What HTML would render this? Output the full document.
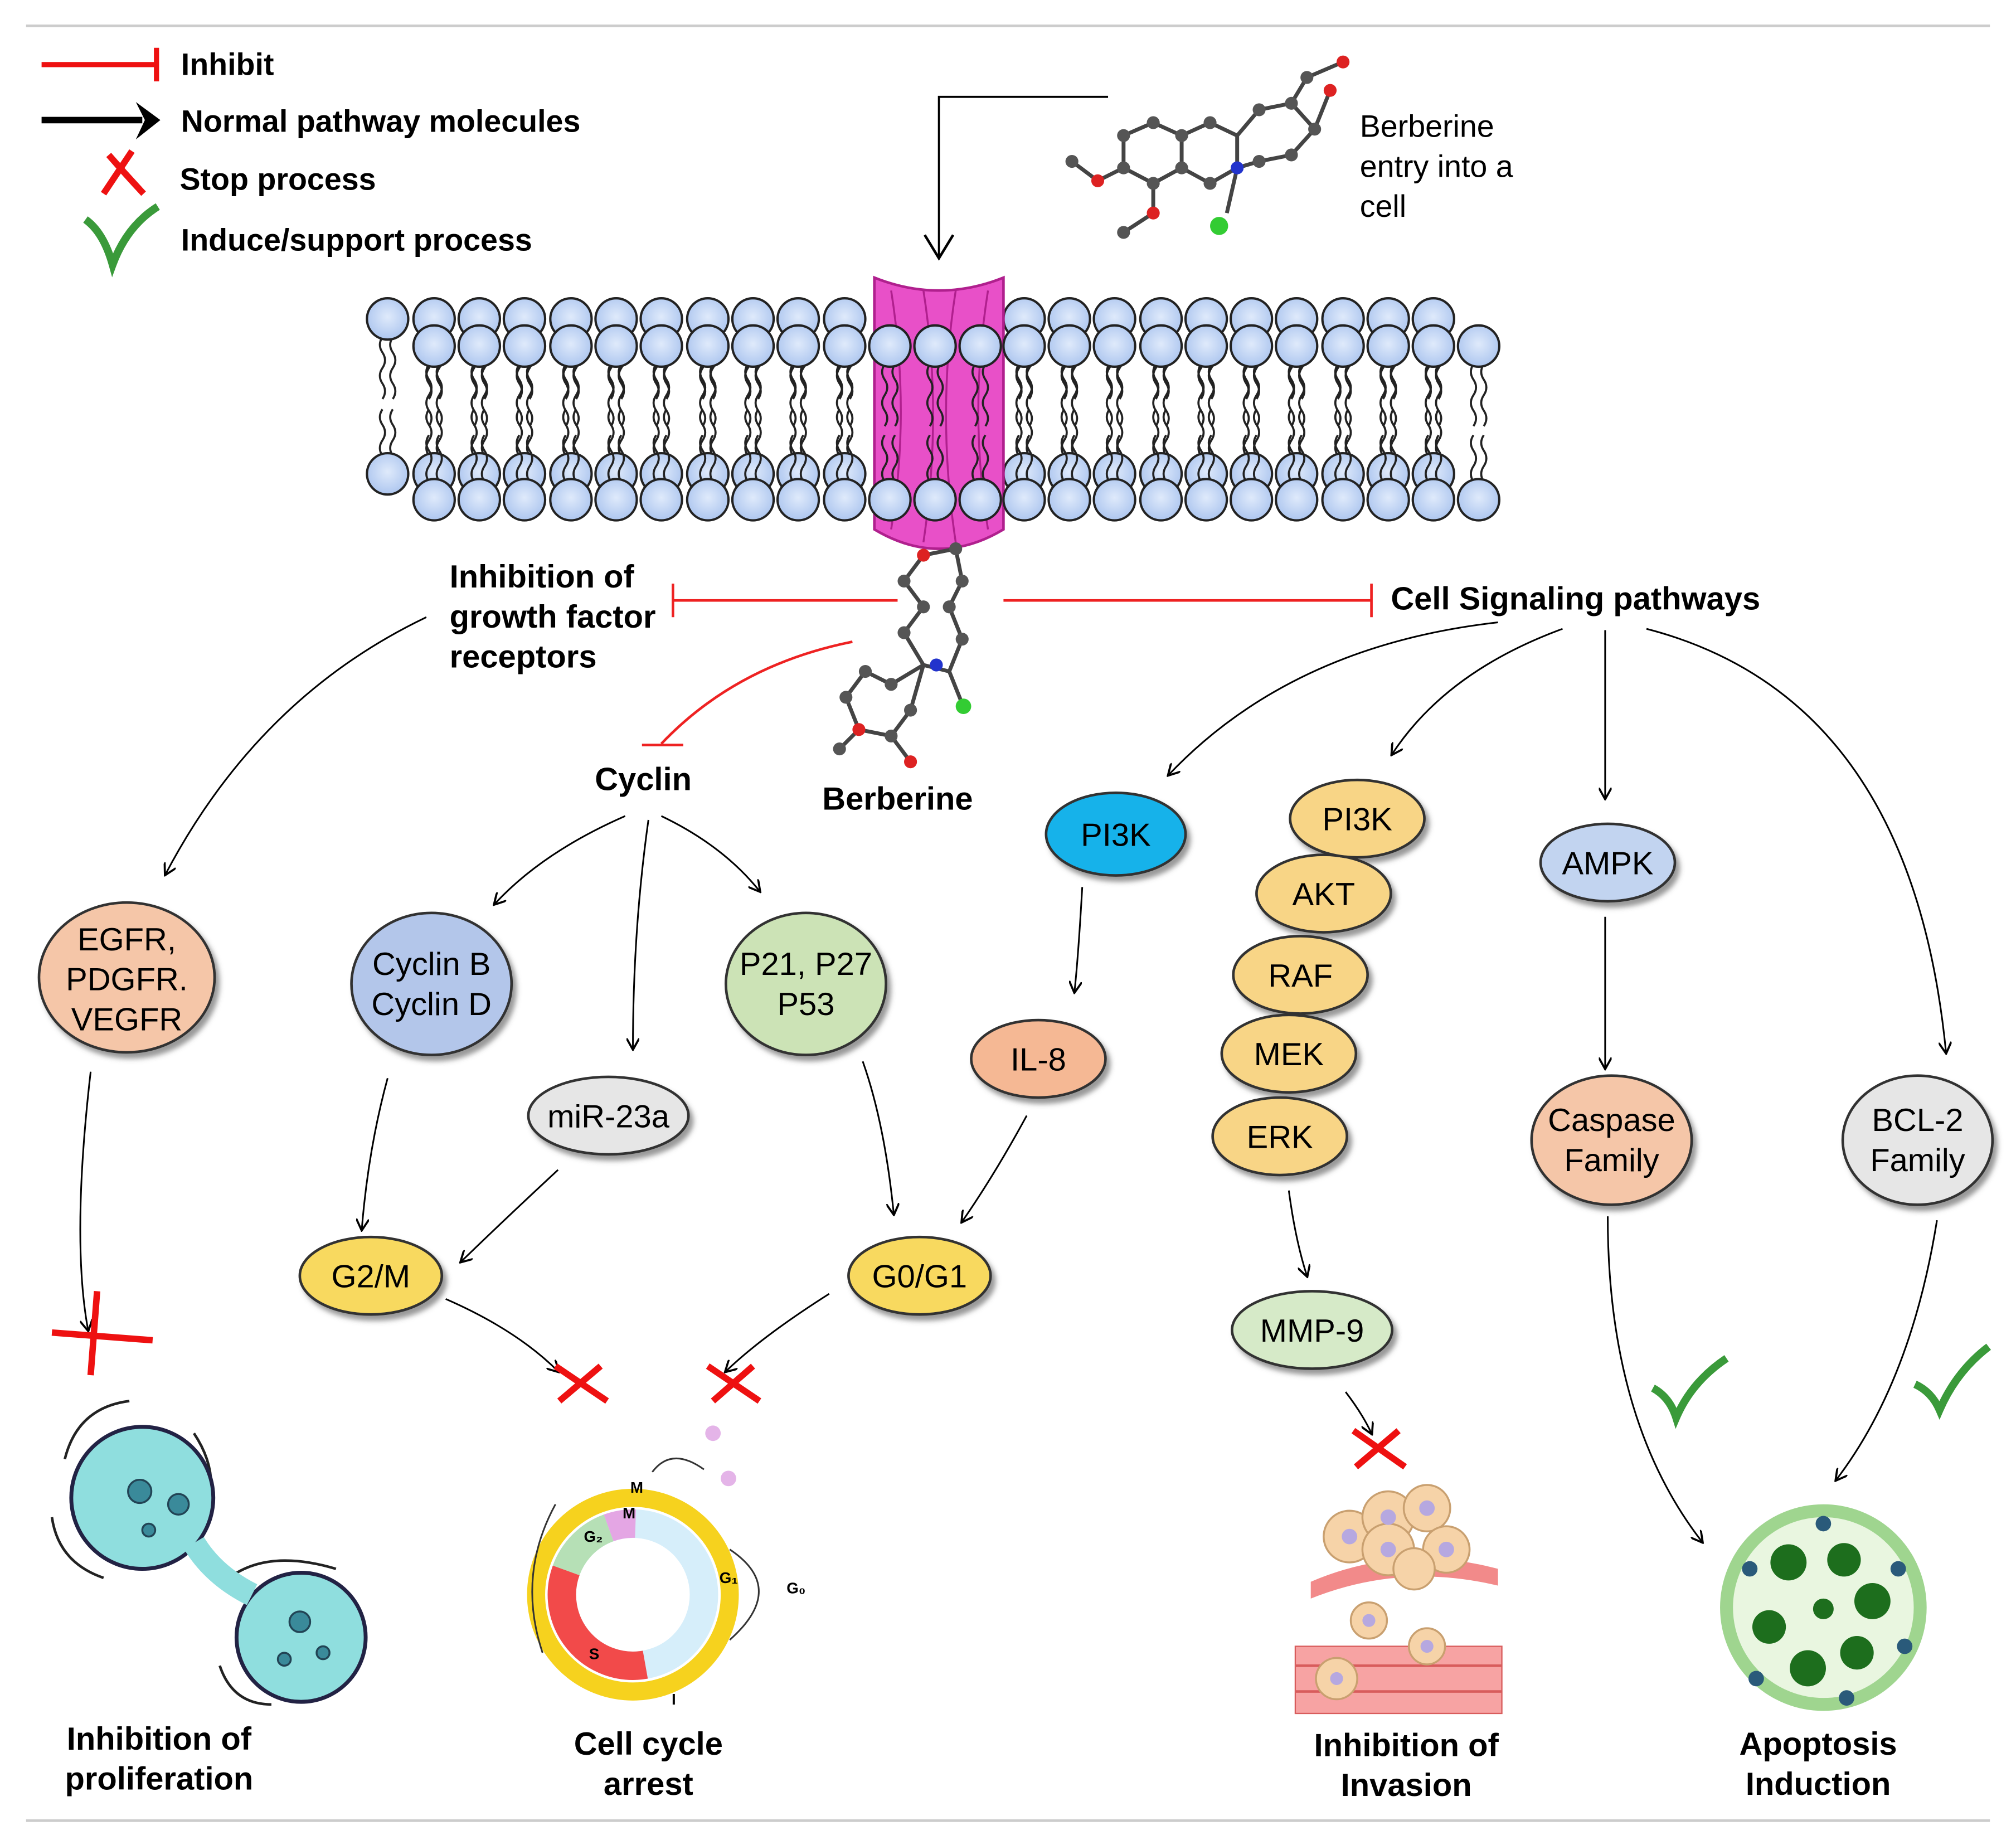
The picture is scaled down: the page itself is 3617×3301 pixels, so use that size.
<!DOCTYPE html>
<html><head><meta charset="utf-8"><style>html,body{margin:0;padding:0;background:#fff}svg{display:block}text{font-family:"Liberation Sans",Arial,sans-serif}</style></head>
<body>
<svg width="3617" height="3301" viewBox="0 0 1561 1425" xmlns="http://www.w3.org/2000/svg">
<defs>
<marker id="ah" markerWidth="10" markerHeight="10" refX="8" refY="5" orient="auto" markerUnits="userSpaceOnUse" viewBox="0 0 10 10"><path d="M0,0 L9,5 L0,10" fill="none" stroke="#000" stroke-width="1.6"/></marker>
<radialGradient id="head" cx="0.5" cy="0.45" r="0.6"><stop offset="0" stop-color="#dfeafb"/><stop offset="1" stop-color="#a9c3ee"/></radialGradient>
<g id="lt"><path d="M-4,14 q-4,6 0,12 q4,6 0,12 q-4,6 0,12 q4,6 0,12 M4,14 q-4,6 0,12 q4,6 0,12 q-4,6 0,12 q4,6 0,12" fill="none" stroke="#222" stroke-width="1.6"/><circle r="16" fill="url(#head)" stroke="#222" stroke-width="1.8"/></g>
<g id="lb"><path d="M-4,-14 q-4,-6 0,-12 q4,-6 0,-12 q-4,-6 0,-12 M4,-14 q-4,-6 0,-12 q4,-6 0,-12 q-4,-6 0,-12" fill="none" stroke="#222" stroke-width="1.6"/><circle r="16" fill="url(#head)" stroke="#222" stroke-width="1.8"/></g>
<filter id="sh" x="-20%" y="-20%" width="150%" height="160%"><feDropShadow dx="3" dy="4" stdDeviation="2" flood-color="#555" flood-opacity="0.6"/></filter>
</defs>
<line x1="20" y1="20" x2="1541" y2="20" stroke="#ccc" stroke-width="2"/>
<line x1="20" y1="1410" x2="1541" y2="1410" stroke="#ccc" stroke-width="2"/>
<!-- legend -->
<line x1="32" y1="50" x2="120" y2="50" stroke="#e11" stroke-width="4"/><line x1="121" y1="37" x2="121" y2="63" stroke="#e11" stroke-width="4"/>
<line x1="32" y1="93" x2="110" y2="93" stroke="#000" stroke-width="5"/><path d="M105,79 L124,93 L105,108 L112,93Z" fill="#000"/>
<path d="M84,120 Q97,135 111,150 M102,117 Q90,135 80,150" stroke="#e11" stroke-width="5" fill="none"/>
<path d="M66,170 Q80,180 87,205 Q98,175 122,160" stroke="#3a9a3a" stroke-width="6" fill="none"/>
<g font-weight="bold" font-size="24">
<text x="140" y="58">Inhibit</text><text x="140" y="102">Normal pathway molecules</text><text x="139" y="147">Stop process</text><text x="140" y="194">Induce/support process</text></g>
<!-- membrane -->
<use href="#lt" x="300" y="247"/><use href="#lt" x="336" y="247"/><use href="#lt" x="371" y="247"/><use href="#lt" x="406" y="247"/><use href="#lt" x="442" y="247"/><use href="#lt" x="477" y="247"/><use href="#lt" x="512" y="247"/><use href="#lt" x="548" y="247"/><use href="#lt" x="583" y="247"/><use href="#lt" x="618" y="247"/><use href="#lt" x="654" y="247"/><use href="#lt" x="793" y="247"/><use href="#lt" x="828" y="247"/><use href="#lt" x="863" y="247"/><use href="#lt" x="899" y="247"/><use href="#lt" x="934" y="247"/><use href="#lt" x="969" y="247"/><use href="#lt" x="1004" y="247"/><use href="#lt" x="1040" y="247"/><use href="#lt" x="1075" y="247"/><use href="#lt" x="1110" y="247"/>
<use href="#lb" x="300" y="367"/><use href="#lb" x="336" y="367"/><use href="#lb" x="371" y="367"/><use href="#lb" x="406" y="367"/><use href="#lb" x="442" y="367"/><use href="#lb" x="477" y="367"/><use href="#lb" x="512" y="367"/><use href="#lb" x="548" y="367"/><use href="#lb" x="583" y="367"/><use href="#lb" x="618" y="367"/><use href="#lb" x="654" y="367"/><use href="#lb" x="793" y="367"/><use href="#lb" x="828" y="367"/><use href="#lb" x="863" y="367"/><use href="#lb" x="899" y="367"/><use href="#lb" x="934" y="367"/><use href="#lb" x="969" y="367"/><use href="#lb" x="1004" y="367"/><use href="#lb" x="1040" y="367"/><use href="#lb" x="1075" y="367"/><use href="#lb" x="1110" y="367"/>
<path d="M677,215 Q727,235 777,215 L777,410 Q727,440 677,410 Z" fill="#e850c8" stroke="#b0208e" stroke-width="2"/>
<path d="M690,225 Q705,320 690,410 M765,225 Q750,320 765,410 M715,225 Q730,320 715,420 M740,225 Q725,320 740,420" stroke="#b0208e" stroke-width="1.5" fill="none"/>
<use href="#lt" x="336" y="268"/><use href="#lt" x="371" y="268"/><use href="#lt" x="406" y="268"/><use href="#lt" x="442" y="268"/><use href="#lt" x="477" y="268"/><use href="#lt" x="512" y="268"/><use href="#lt" x="548" y="268"/><use href="#lt" x="583" y="268"/><use href="#lt" x="618" y="268"/><use href="#lt" x="654" y="268"/><use href="#lt" x="689" y="268"/><use href="#lt" x="724" y="268"/><use href="#lt" x="759" y="268"/><use href="#lt" x="793" y="268"/><use href="#lt" x="828" y="268"/><use href="#lt" x="863" y="268"/><use href="#lt" x="899" y="268"/><use href="#lt" x="934" y="268"/><use href="#lt" x="969" y="268"/><use href="#lt" x="1004" y="268"/><use href="#lt" x="1040" y="268"/><use href="#lt" x="1075" y="268"/><use href="#lt" x="1110" y="268"/><use href="#lt" x="1145" y="268"/>
<use href="#lb" x="336" y="387"/><use href="#lb" x="371" y="387"/><use href="#lb" x="406" y="387"/><use href="#lb" x="442" y="387"/><use href="#lb" x="477" y="387"/><use href="#lb" x="512" y="387"/><use href="#lb" x="548" y="387"/><use href="#lb" x="583" y="387"/><use href="#lb" x="618" y="387"/><use href="#lb" x="654" y="387"/><use href="#lb" x="689" y="387"/><use href="#lb" x="724" y="387"/><use href="#lb" x="759" y="387"/><use href="#lb" x="793" y="387"/><use href="#lb" x="828" y="387"/><use href="#lb" x="863" y="387"/><use href="#lb" x="899" y="387"/><use href="#lb" x="934" y="387"/><use href="#lb" x="969" y="387"/><use href="#lb" x="1004" y="387"/><use href="#lb" x="1040" y="387"/><use href="#lb" x="1075" y="387"/><use href="#lb" x="1110" y="387"/><use href="#lb" x="1145" y="387"/>
<!-- entry arrow -->
<path d="M858,75 L727,75 L727,200" fill="none" stroke="#000" stroke-width="1.6"/><path d="M716,182 L727,200 L738,182" fill="none" stroke="#000" stroke-width="2"/>
<!-- top molecule -->
<g stroke="#444" stroke-width="3" fill="none">
<path d="M870,105 L893,95 L915,105 L915,130 L893,142 L870,130 Z M915,105 L937,95 L958,105 L958,130 L937,142 L915,130 M958,105 L975,85 L1000,80 L1018,100 L1000,120 L975,125 L958,130 M1000,80 L1012,60 L1040,48 M1018,100 L1030,70 M870,130 L850,140 L830,125 M893,142 L893,165 L870,180 M958,130 L950,165"/>
</g>
<g fill="#555"><circle cx="870" cy="105" r="5"/><circle cx="893" cy="95" r="5"/><circle cx="915" cy="105" r="5"/><circle cx="915" cy="130" r="5"/><circle cx="893" cy="142" r="5"/><circle cx="870" cy="130" r="5"/><circle cx="937" cy="95" r="5"/><circle cx="937" cy="142" r="5"/><circle cx="975" cy="85" r="5"/><circle cx="1000" cy="80" r="5"/><circle cx="1018" cy="100" r="5"/><circle cx="1000" cy="120" r="5"/><circle cx="975" cy="125" r="5"/><circle cx="830" cy="125" r="5"/><circle cx="870" cy="180" r="5"/><circle cx="1012" cy="60" r="5"/></g>
<circle cx="958" cy="130" r="5" fill="#2233cc"/><circle cx="850" cy="140" r="5" fill="#d22"/><circle cx="893" cy="165" r="5" fill="#d22"/><circle cx="1040" cy="48" r="5" fill="#d22"/><circle cx="1030" cy="70" r="5" fill="#d22"/><circle cx="944" cy="175" r="7" fill="#3c3"/>
<text x="1053" y="106" font-size="24">Berberine</text><text x="1053" y="137" font-size="24">entry into a</text><text x="1053" y="168" font-size="24">cell</text>
<!-- lower molecule -->
<g stroke="#444" stroke-width="3" fill="none">
<path d="M715,430 L740,425 L745,450 L735,470 L745,495 L735,520 L715,515 L700,490 L715,470 L700,450 Z M715,515 L690,530 L670,520 L655,540 L665,565 L690,570 L705,550 L715,515 M665,565 L650,580 M690,570 L705,590 M735,520 L745,545"/>
</g>
<g fill="#555"><circle cx="740" cy="425" r="5"/><circle cx="745" cy="450" r="5"/><circle cx="735" cy="470" r="5"/><circle cx="745" cy="495" r="5"/><circle cx="715" cy="470" r="5"/><circle cx="700" cy="450" r="5"/><circle cx="700" cy="490" r="5"/><circle cx="690" cy="530" r="5"/><circle cx="670" cy="520" r="5"/><circle cx="655" cy="540" r="5"/><circle cx="690" cy="570" r="5"/><circle cx="705" cy="550" r="5"/><circle cx="650" cy="580" r="5"/></g>
<circle cx="715" cy="430" r="5" fill="#d22"/><circle cx="725" cy="515" r="5" fill="#23c"/><circle cx="665" cy="565" r="5" fill="#d22"/><circle cx="705" cy="590" r="5" fill="#d22"/><circle cx="746" cy="547" r="6" fill="#3c3"/>
<text x="695" y="627" font-size="25" font-weight="bold" text-anchor="middle">Berberine</text>
<!-- inhibition lines -->
<g stroke="#e22" stroke-width="2" fill="none">
<line x1="695" y1="465" x2="521" y2="465"/><line x1="521" y1="452" x2="521" y2="478"/>
<line x1="777" y1="465" x2="1062" y2="465"/><line x1="1062" y1="452" x2="1062" y2="478"/>
<path d="M660,497 Q570,515 512,576"/><line x1="497" y1="577" x2="529" y2="577"/>
</g>
<g font-weight="bold" font-size="25">
<text x="348" y="455">Inhibition of</text><text x="348" y="486">growth factor</text><text x="348" y="517">receptors</text>
<text x="1077" y="472">Cell Signaling pathways</text>
<text x="498" y="612" text-anchor="middle">Cyclin</text>
</g>
<!-- arrows -->
<g stroke="#000" stroke-width="1.3" fill="none" marker-end="url(#ah)">
<path d="M330,478 Q200,540 128,677"/>
<path d="M484,632 Q420,660 383,700"/>
<path d="M502,635 Q490,720 490,812"/>
<path d="M512,632 Q560,655 588,690"/>
<path d="M1160,482 Q1000,500 905,600"/>
<path d="M1210,487 Q1120,520 1078,584"/>
<path d="M1243,488 L1243,618"/>
<path d="M1275,487 Q1480,540 1507,815"/>
<path d="M838,687 Q835,740 832,768"/>
<path d="M300,835 Q285,890 280,952"/>
<path d="M432,906 Q390,945 357,977"/>
<path d="M668,822 Q685,870 692,940"/>
<path d="M795,864 Q770,910 745,946"/>
<path d="M1243,710 L1243,827"/>
<path d="M998,922 Q1003,960 1012,988"/>
<path d="M70,830 Q55,960 68,1030"/>
<path d="M1245,942 Q1245,1100 1318,1194"/>
<path d="M1500,945 Q1480,1070 1422,1146"/>
<path d="M345,1006 Q400,1030 432,1062"/>
<path d="M642,1002 Q590,1035 562,1062"/>
<path d="M1042,1078 Q1055,1095 1062,1110"/>
</g>
<!-- nodes -->
<g filter="url(#sh)" stroke="#333" stroke-width="2">
<ellipse cx="98" cy="757" rx="68" ry="58" fill="#f5c6a8"/>
<ellipse cx="334" cy="762" rx="62" ry="55" fill="#b3c6ea"/>
<ellipse cx="624" cy="762" rx="62" ry="55" fill="#cce3b6"/>
<ellipse cx="471" cy="864" rx="62" ry="30" fill="#e6e6e6"/>
<ellipse cx="287" cy="988" rx="55" ry="30" fill="#f8d95e"/>
<ellipse cx="712" cy="988" rx="55" ry="30" fill="#f8d95e"/>
<ellipse cx="864" cy="646" rx="54" ry="32" fill="#19b2ea"/>
<ellipse cx="804" cy="820" rx="52" ry="30" fill="#f5b894"/>
<ellipse cx="991" cy="880" rx="52" ry="30" fill="#f8d586"/>
<ellipse cx="998" cy="816" rx="52" ry="30" fill="#f8d586"/>
<ellipse cx="1007" cy="755" rx="52" ry="30" fill="#f8d586"/>
<ellipse cx="1025" cy="692" rx="52" ry="30" fill="#f8d586"/>
<ellipse cx="1051" cy="634" rx="52" ry="30" fill="#f8d586"/>
<ellipse cx="1016" cy="1030" rx="62" ry="30" fill="#d6eac8"/>
<ellipse cx="1245" cy="668" rx="52" ry="30" fill="#c2d4f0"/>
<ellipse cx="1248" cy="883" rx="62" ry="50" fill="#f5c6a8"/>
<ellipse cx="1485" cy="883" rx="58" ry="50" fill="#e6e6e6"/>
</g>
<g font-size="25" text-anchor="middle">
<text x="98" y="736">EGFR,</text><text x="98" y="767">PDGFR.</text><text x="98" y="798">VEGFR</text>
<text x="334" y="755">Cyclin B</text><text x="334" y="786">Cyclin D</text>
<text x="624" y="755">P21, P27</text><text x="624" y="786">P53</text>
<text x="471" y="873">miR-23a</text>
<text x="287" y="997">G2/M</text><text x="712" y="997">G0/G1</text>
<text x="864" y="655">PI3K</text><text x="804" y="829">IL-8</text>
<text x="1051" y="643">PI3K</text><text x="1025" y="701">AKT</text><text x="1007" y="764">RAF</text><text x="998" y="825">MEK</text><text x="991" y="889">ERK</text>
<text x="1016" y="1039">MMP-9</text><text x="1245" y="677">AMPK</text>
<text x="1248" y="876">Caspase</text><text x="1248" y="907">Family</text>
<text x="1485" y="876">BCL-2</text><text x="1485" y="907">Family</text>
</g>
<!-- X marks and checks -->
<g stroke="#e11" stroke-width="5" fill="none">
<path d="M75,1000 Q72,1040 70,1065 M40,1032 Q80,1035 118,1038"/>
<path d="M430,1058 L470,1085 M465,1058 L433,1085"/>
<path d="M548,1058 L588,1085 M583,1058 L552,1085"/>
<path d="M1048,1108 L1088,1136 M1083,1108 L1050,1136"/>
</g>
<g stroke="#3a9a3a" stroke-width="6" fill="none">
<path d="M1280,1075 Q1293,1082 1298,1098 Q1310,1070 1337,1052"/>
<path d="M1483,1072 Q1496,1078 1502,1092 Q1515,1062 1540,1043"/>
</g>
<!-- proliferation cells -->
<g stroke="#222" stroke-width="2" fill="none">
<path d="M50,1130 Q60,1090 100,1085 M40,1175 Q45,1210 80,1222 M150,1110 Q170,1140 160,1170 M180,1220 Q210,1200 260,1215 M275,1250 Q290,1290 250,1315 M170,1290 Q180,1320 210,1320"/>
</g>
<circle cx="110" cy="1160" r="55" fill="#8fdede" stroke="#224" stroke-width="3"/>
<circle cx="233" cy="1268" r="50" fill="#8fdede" stroke="#224" stroke-width="3"/>
<path d="M150,1195 Q165,1220 195,1235" stroke="#8fdede" stroke-width="18"/>
<g fill="#3a8a9a" stroke="#245" stroke-width="1.5"><circle cx="108" cy="1155" r="9"/><circle cx="138" cy="1165" r="8"/><circle cx="115" cy="1185" r="5"/><circle cx="232" cy="1256" r="8"/><circle cx="220" cy="1285" r="5"/><circle cx="250" cy="1280" r="5"/></g>
<!-- cell cycle -->
<circle cx="490" cy="1235" r="75" fill="none" stroke="#f6d21e" stroke-width="14"/>
<circle cx="490" cy="1235" r="55" fill="none" stroke="#d6eefa" stroke-width="22"/>
<path d="M438.3,1216.2 A55,55 0 0 0 499.6,1289.2" fill="none" stroke="#f24a4a" stroke-width="22"/>
<path d="M438.3,1216.2 A55,55 0 0 1 471.2,1183.3" fill="none" stroke="#b6e0b6" stroke-width="22"/>
<path d="M471.2,1183.3 A55,55 0 0 1 492,1180" fill="none" stroke="#e4a6e4" stroke-width="22"/>
<path d="M420,1280 Q400,1220 430,1165 M565,1200 Q610,1230 565,1270 M505,1140 Q520,1120 545,1138" fill="none" stroke="#333" stroke-width="1.3"/>
<circle cx="552" cy="1110" r="6" fill="#e4b4e8"/><circle cx="564" cy="1145" r="6" fill="#e4b4e8"/>
<g font-size="12" font-weight="bold"><text x="488" y="1156">M</text><text x="482" y="1176">M</text><text x="452" y="1194">G₂</text><text x="557" y="1226">G₁</text><text x="609" y="1234">G₀</text><text x="456" y="1285">S</text><text x="520" y="1320">I</text></g>
<!-- invasion -->
<path d="M1015,1225 Q1085,1195 1160,1215 L1160,1228 Q1085,1210 1015,1238 Z" fill="#f28a8a"/>
<rect x="1003" y="1275" width="160" height="52" fill="#f7a3a3" stroke="#d85c5c"/>
<g stroke="#d85c5c" stroke-width="2"><line x1="1003" y1="1290" x2="1163" y2="1290"/><line x1="1003" y1="1310" x2="1163" y2="1310"/></g>
<g fill="#f6d3a8" stroke="#c9a070" stroke-width="1.5">
<circle cx="1045" cy="1190" r="20"/><circle cx="1075" cy="1175" r="20"/><circle cx="1105" cy="1168" r="18"/><circle cx="1075" cy="1200" r="20"/><circle cx="1120" cy="1200" r="18"/><circle cx="1095" cy="1215" r="16"/><circle cx="1060" cy="1255" r="14"/><circle cx="1105" cy="1275" r="14"/><circle cx="1035" cy="1300" r="16"/></g>
<g fill="#b6a8e0"><circle cx="1045" cy="1190" r="6"/><circle cx="1075" cy="1175" r="6"/><circle cx="1105" cy="1168" r="6"/><circle cx="1075" cy="1200" r="6"/><circle cx="1120" cy="1200" r="6"/><circle cx="1060" cy="1255" r="5"/><circle cx="1105" cy="1275" r="5"/><circle cx="1035" cy="1300" r="5"/></g>
<!-- apoptosis -->
<circle cx="1412" cy="1245" r="75" fill="#e9f6e0" stroke="#9fd58f" stroke-width="10"/>
<g fill="#1d6e1d"><circle cx="1385" cy="1210" r="14"/><circle cx="1428" cy="1208" r="13"/><circle cx="1450" cy="1240" r="14"/><circle cx="1438" cy="1280" r="13"/><circle cx="1400" cy="1292" r="14"/><circle cx="1370" cy="1260" r="13"/><circle cx="1412" cy="1246" r="8"/></g>
<g fill="#2a5a7a"><circle cx="1355" cy="1215" r="6"/><circle cx="1470" cy="1215" r="6"/><circle cx="1475" cy="1275" r="6"/><circle cx="1430" cy="1315" r="6"/><circle cx="1360" cy="1300" r="6"/><circle cx="1412" cy="1180" r="6"/></g>
<!-- bottom labels -->
<g font-weight="bold" font-size="25" text-anchor="middle">
<text x="123" y="1355">Inhibition of</text><text x="123" y="1386">proliferation</text>
<text x="502" y="1359">Cell cycle</text><text x="502" y="1390">arrest</text>
<text x="1089" y="1360">Inhibition of</text><text x="1089" y="1391">Invasion</text>
<text x="1408" y="1359">Apoptosis</text><text x="1408" y="1390">Induction</text>
</g>
</svg>
</body></html>
